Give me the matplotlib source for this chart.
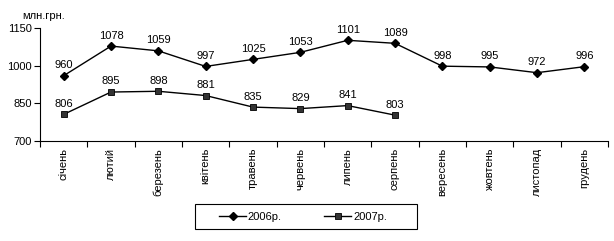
import matplotlib
matplotlib.use("Agg")
import matplotlib.pyplot as plt
from matplotlib.patches import Rectangle
import numpy as np

months = ["січень", "лютий", "березень", "квітень", "травень", "червень",
          "липень", "серпень", "вересень", "жовтень", "листопад", "грудень"]
s2006 = [960, 1078, 1059, 997, 1025, 1053, 1101, 1089, 998, 995, 972, 996]
s2007 = [806, 895, 898, 881, 835, 829, 841, 803]
yticks = [700, 850, 1000, 1150]

plt.rcParams['font.family'] = ['Liberation Sans', 'DejaVu Sans']
plt.rcParams['font.size'] = 8

W, H = 614, 241
fig = plt.figure(figsize=(W / 100, H / 100), dpi=100)
ax = fig.add_axes([40 / W, 1 - 141 / H, (608 - 40) / W, (141 - 28) / H])

x6 = np.arange(len(s2006))
x7 = np.arange(len(s2007))
ax.plot(x6, s2006, color='black', lw=1, marker='D', ms=4, mfc='black', mec='black', label='2006р.')
ax.plot(x7, s2007, color='black', lw=1, marker='s', ms=5, mfc='#333333', mec='black', mew=0.6, label='2007р.')

for x, v in zip(x6, s2006):
    ax.annotate(str(v), (x, v), xytext=(0, 4), textcoords='offset points', ha='center', va='bottom', fontsize=8)
for x, v in zip(x7, s2007):
    ax.annotate(str(v), (x, v), xytext=(0, 4), textcoords='offset points', ha='center', va='bottom', fontsize=8)

ax.set_xlim(-0.5, len(months) - 0.5)
ax.set_ylim(700, 1150)
ax.set_yticks(yticks)
ax.set_xticks(x6)
ax.set_xticklabels(months, rotation=90, va='top', ha='center')
ax.tick_params(axis='x', which='major', length=0, pad=5)
ax.set_xticks(np.arange(-0.5, len(months), 1), minor=True)
ax.tick_params(axis='x', which='minor', length=4, direction='out', width=0.8)
ax.tick_params(axis='y', length=4, direction='out', width=0.8, pad=2)
for sp in ['top', 'right']:
    ax.spines[sp].set_visible(False)
for sp in ['left', 'bottom']:
    ax.spines[sp].set_linewidth(0.8)

fig.text(22 / W, 1 - 16 / H, "млн.грн.", ha='left', va='center', fontsize=8)

fig.patches.append(Rectangle((195 / W, 1 - 229 / H), (417 - 195) / W, 25 / H,
                             transform=fig.transFigure, fill=False, edgecolor='black', lw=0.8))
leg = fig.legend(loc='center left', bbox_to_anchor=(219 / W, 1 - 216.5 / H), ncol=2,
                 frameon=False, fontsize=8, borderpad=0, borderaxespad=0,
                 handlelength=2.45, handletextpad=0.15, columnspacing=3.8)

fig.savefig("out.png", dpi=100)
